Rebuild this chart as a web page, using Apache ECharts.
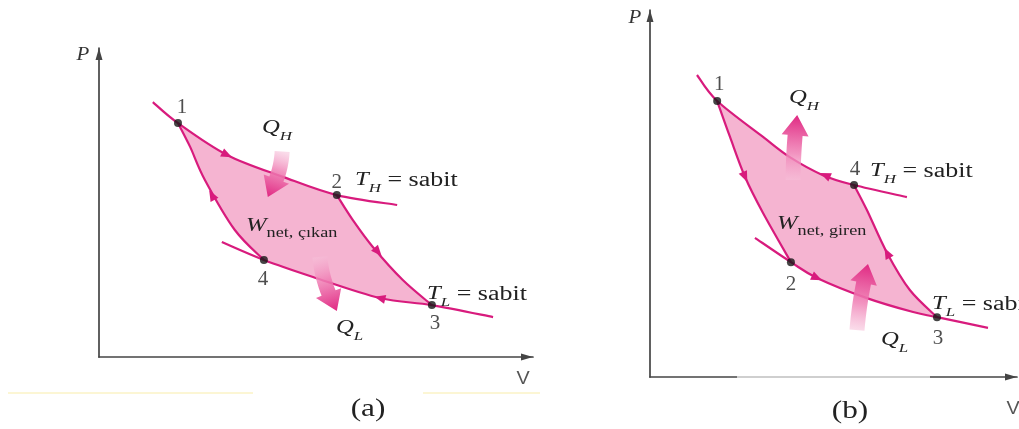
<!DOCTYPE html>
<html>
<head>
<meta charset="utf-8">
<script src="https://cdn.jsdelivr.net/npm/echarts@6/dist/echarts.min.js"></script>
<style>html,body{margin:0;padding:0;background:#fff}#c{width:1019px;height:429px}</style>
</head>
<body>
<div id="c"></div>
<script>
// ---------- Panel (a): heat engine cycle (V, P in relative units 0..100) ----------
const aIsoHot    = [[12.4,82.5],[18.2,75.7],[29.5,65.4],[42.4,58.3],[54.8,52.4],[68.7,49.2]];
const aIsoCold   = [[28.3,37.2],[38.0,31.4],[49.3,25.9],[64.7,19.1],[76.7,16.8],[90.8,12.9]];
const aAdiaLeft  = [[18.2,75.7],[21.0,68.0],[24.4,57.3],[31.3,41.1],[38.0,31.4]];   // 1 ... 4
const aAdiaRight = [[54.8,52.4],[58.5,44.3],[63.1,35.6],[70.0,24.9],[76.7,16.8]];   // 2 ... 3
const aStates    = [[18.2,75.7],[54.8,52.4],[76.7,16.8],[38.0,31.4]];
const aStateNames = ['1','2','3','4'];
const aFlowMarks = [[29.5,65.4],[64.3,34.0],[64.7,19.1],[26.0,52.4]];
const aHeatQH    = [[42.2,66.5],[41.9,58.9],[38.9,51.8]];   // tail, bend, tip
const aHeatQL    = [[50.9,32.4],[51.4,23.9],[54.8,14.9]];

// ---------- Panel (b): refrigerator cycle ----------
const bIsoHot    = [[12.8,82.3],[18.3,75.2],[30.8,65.4],[38.1,59.9],[47.1,55.0],[55.6,52.3],[70.0,49.0]];
const bIsoCold   = [[28.6,37.9],[38.4,31.3],[45.5,27.0],[59.1,21.5],[71.7,17.7],[78.2,16.3],[92.1,13.4]];
const bAdiaLeft  = [[18.3,75.2],[21.8,65.4],[25.9,54.5],[30.8,44.7],[38.4,31.3]];   // 1 ... 2
const bAdiaRight = [[55.6,52.3],[59.1,45.5],[64.6,33.8],[70.8,23.7],[78.2,16.3]];   // 4 ... 3
const bStates    = [[18.3,75.2],[38.4,31.3],[78.2,16.3],[55.6,52.3]];
const bStateNames = ['1','2','3','4'];
const bFlowMarks = [[25.9,54.5],[45.5,27.0],[64.6,33.8],[47.7,55.0]];
const bHeatQH    = [[39.0,53.7],[39.0,61.9],[40.1,71.4]];
const bHeatQL    = [[56.4,12.8],[57.2,22.3],[59.4,30.8]];

// ---------- styles ----------
const LINE = '#d81b7d', FILL = '#f5b4d1', DOT = '#161616', AXIS = '#454545';
const SERIF = '"Liberation Serif", "DejaVu Serif", serif';

function crSegs(px, i0, i1) {
  const segs = [], step = i1 >= i0 ? 1 : -1, n = px.length;
  const g = k => px[Math.max(0, Math.min(n - 1, k))];
  for (let i = i0; i !== i1; i += step) {
    const p0 = g(i - step), p1 = g(i), p2 = g(i + step), p3 = g(i + 2 * step);
    segs.push([p1,
      [p1[0] + (p2[0] - p0[0]) / 6, p1[1] + (p2[1] - p0[1]) / 6],
      [p2[0] - (p3[0] - p1[0]) / 6, p2[1] - (p3[1] - p1[1]) / 6],
      p2]);
  }
  return segs;
}
function segsPath(segs, close) {
  let d = 'M' + segs[0][0][0] + ',' + segs[0][0][1];
  segs.forEach(s => { d += 'C' + s[1][0] + ',' + s[1][1] + ' ' + s[2][0] + ',' + s[2][1] + ' ' + s[3][0] + ',' + s[3][1]; });
  return close ? d + 'Z' : d;
}
function bez(s, t) {
  const a = (1-t)*(1-t)*(1-t), b = 3*(1-t)*(1-t)*t, c = 3*(1-t)*t*t, e = t*t*t;
  return [a*s[0][0]+b*s[1][0]+c*s[2][0]+e*s[3][0], a*s[0][1]+b*s[1][1]+c*s[2][1]+e*s[3][1]];
}
function heatArrow(T, C, E, shaftW, headW, headL) {
  const N = 40, pts = [];
  for (let i = 0; i <= N; i++) {
    const t = i / N, a = (1-t)*(1-t), b = 2*(1-t)*t, c = t*t;
    pts.push([a*T[0]+b*C[0]+c*E[0], a*T[1]+b*C[1]+c*E[1]]);
  }
  const L = [0];
  for (let i = 1; i <= N; i++) L.push(L[i-1] + Math.hypot(pts[i][0]-pts[i-1][0], pts[i][1]-pts[i-1][1]));
  const total = L[N];
  let k = N; while (k > 0 && total - L[k] < headL) k--;
  const nrm = i => {
    const p = pts[Math.min(i+1, N)], q = pts[Math.max(i-1, 0)];
    const dx = p[0]-q[0], dy = p[1]-q[1], l = Math.hypot(dx, dy) || 1;
    return [-dy / l, dx / l];
  };
  const left = [], right = [];
  for (let i = 0; i <= k; i++) {
    const n = nrm(i);
    left.push([pts[i][0] + n[0]*shaftW/2, pts[i][1] + n[1]*shaftW/2]);
    right.push([pts[i][0] - n[0]*shaftW/2, pts[i][1] - n[1]*shaftW/2]);
  }
  const n = nrm(k), B = pts[k];
  return left.concat([[B[0]+n[0]*headW/2, B[1]+n[1]*headW/2], E, [B[0]-n[0]*headW/2, B[1]-n[1]*headW/2]], right.reverse());
}

function panelRenderer(cfg) {
  return function (params, api) {
    const toPx = arr => arr.map(p => api.coord(p));
    const curves = { hot: toPx(cfg.hot), cold: toPx(cfg.cold), adL: toPx(cfg.adL), adR: toPx(cfg.adR) };
    const children = [];
    // cycle area
    let cycleSegs = [];
    cfg.edges.forEach(e => { cycleSegs = cycleSegs.concat(crSegs(curves[e[0]], e[1], e[2])); });
    children.push({ type: 'path', shape: { pathData: segsPath(cycleSegs, true) },
      style: { fill: FILL, stroke: null } });
    // isotherms and adiabats
    ['hot', 'cold', 'adL', 'adR'].forEach(k => {
      const px = curves[k];
      children.push({ type: 'path', shape: { pathData: segsPath(crSegs(px, 0, px.length - 1), false) },
        style: { fill: null, stroke: LINE, lineWidth: 2.2, lineJoin: 'round' } });
    });
    // flow-direction triangles
    const samples = [];
    cycleSegs.forEach(s => { for (let i = 0; i < 12; i++) samples.push(bez(s, i / 12)); });
    samples.push(cycleSegs[cycleSegs.length - 1][3]);
    cfg.marks.forEach(m => {
      const p = api.coord(m);
      let best = 0, bd = Infinity;
      for (let i = 0; i < samples.length - 1; i++) {
        const d = Math.hypot(samples[i][0] - p[0], samples[i][1] - p[1]);
        if (d < bd) { bd = d; best = i; }
      }
      const a = samples[best], b = samples[best + 1];
      const dx = b[0] - a[0], dy = b[1] - a[1], l = Math.hypot(dx, dy) || 1;
      const ux = dx / l, uy = dy / l, nx = -uy, ny = ux, len = 11, w = 9;
      children.push({ type: 'polygon', shape: { points: [
        [p[0] + ux*len/2, p[1] + uy*len/2],
        [p[0] - ux*len/2 + nx*w/2, p[1] - uy*len/2 + ny*w/2],
        [p[0] - ux*len/2 - nx*w/2, p[1] - uy*len/2 - ny*w/2]] },
        style: { fill: LINE } });
    });
    // heat-transfer arrows
    cfg.heats.forEach(h => {
      const T = api.coord(h[0]), C = api.coord(h[1]), E = api.coord(h[2]);
      const grad = new echarts.graphic.LinearGradient(T[0], T[1], E[0], E[1], [
        { offset: 0, color: 'rgba(246,190,216,0.55)' },
        { offset: 0.4, color: 'rgba(240,130,182,0.85)' },
        { offset: 1, color: 'rgba(224,40,130,1)' }], true);
      children.push({ type: 'polygon', shape: { points: heatArrow(T, C, E, 15, 27, 19) },
        style: { fill: grad } });
    });
    return { type: 'group', children };
  };
}

const cfgA = { hot: aIsoHot, cold: aIsoCold, adL: aAdiaLeft, adR: aAdiaRight,
  edges: [['hot', 1, 4], ['adR', 0, 4], ['cold', 4, 1], ['adL', 4, 0]],
  marks: aFlowMarks, heats: [aHeatQH, aHeatQL] };
const cfgB = { hot: bIsoHot, cold: bIsoCold, adL: bAdiaLeft, adR: bAdiaRight,
  edges: [['adL', 0, 4], ['cold', 1, 5], ['adR', 4, 0], ['hot', 5, 1]],
  marks: bFlowMarks, heats: [bHeatQH, bHeatQL] };

const aLabelOffsets = [[4, -16], [0, -13], [3, 18], [-1, 20]];
const bLabelOffsets = [[2, -17], [0, 22], [1, 21], [1, -16]];
function dots(states, names, offs) {
  return states.map((s, i) => ({ value: s, name: names[i],
    label: { show: true, position: 'inside', offset: offs[i], formatter: names[i],
      fontFamily: 'Liberation Serif', fontSize: 21, color: '#222' } }));
}

function axis(gi, extra) {
  return Object.assign({ gridIndex: gi, type: 'value', min: 0, max: 100,
    axisLine: { show: true, onZero: false, symbol: ['none', 'triangle'], symbolSize: [7, 12], symbolOffset: [0, -6],
      lineStyle: { color: AXIS, width: 1.7 } },
    axisTick: { show: false }, axisLabel: { show: false }, splitLine: { show: false } }, extra || {});
}

function rt(x, y, parts, sx) {
  return { type: 'text', x: x, y: y, scaleX: sx || 1.3, silent: true, z: 100,
    style: { text: parts.map(p => '{' + p[0] + '|' + p[1] + '}').join(''),
      align: 'left', verticalAlign: 'middle',
      rich: {
        it: { font: 'italic 19px ' + SERIF, fill: '#222', verticalAlign: 'top' },
        sub: { font: 'italic 13px ' + SERIF, fill: '#222', verticalAlign: 'top', padding: [12, 0, 0, 0] },
        subr: { font: '14px ' + SERIF, fill: '#222', verticalAlign: 'top', padding: [10, 0, 0, 0] },
        rm: { font: '20px ' + SERIF, fill: '#222', verticalAlign: 'top' }
      } } };
}
function tx(x, y, text, font, sx, color) {
  return { type: 'text', x: x, y: y, scaleX: sx || 1, silent: true, z: 100,
    style: { text: text, font: font, fill: color || '#222', align: 'center', verticalAlign: 'middle' } };
}

const chart = echarts.init(document.getElementById('c'));
chart.setOption({
  animation: false,
  backgroundColor: '#ffffff',
  grid: [
    { left: 99, top: 48, width: 434, height: 309 },
    { left: 650, top: 10, width: 367, height: 367 }
  ],
  xAxis: [axis(0), axis(1)],
  yAxis: [axis(0), axis(1)],
  series: [
    { type: 'custom', xAxisIndex: 0, yAxisIndex: 0, data: [[50, 50]], renderItem: panelRenderer(cfgA), silent: true, clip: false, z: 2 },
    { type: 'scatter', xAxisIndex: 0, yAxisIndex: 0, data: dots(aStates, aStateNames, aLabelOffsets),
      symbolSize: 8, itemStyle: { color: DOT }, z: 5, silent: true },
    { type: 'custom', xAxisIndex: 1, yAxisIndex: 1, data: [[50, 50]], renderItem: panelRenderer(cfgB), silent: true, clip: false, z: 2 },
    { type: 'scatter', xAxisIndex: 1, yAxisIndex: 1, data: dots(bStates, bStateNames, bLabelOffsets),
      symbolSize: 8, itemStyle: { color: DOT }, z: 5, silent: true }
  ],
  graphic: [
    { type: 'line', shape: { x1: 8, y1: 393, x2: 253, y2: 393 }, style: { stroke: '#fbf3c6', lineWidth: 1.5 }, silent: true },
    { type: 'line', shape: { x1: 423, y1: 393, x2: 540, y2: 393 }, style: { stroke: '#fbf3c6', lineWidth: 1.5 }, silent: true },
    { type: 'line', shape: { x1: 737, y1: 377, x2: 930, y2: 377 }, style: { stroke: '#cfcfcf', lineWidth: 2 }, silent: true, z: 10 },
    tx(83, 55, 'P', 'italic 19px ' + SERIF, 1.1, '#333'),
    tx(523, 379, 'V', '18px "Liberation Sans", sans-serif', 1.1, '#555'),
    tx(635, 18, 'P', 'italic 19px ' + SERIF, 1.1, '#333'),
    tx(1013, 409, 'V', '18px "Liberation Sans", sans-serif', 1.1, '#555'),
    tx(368, 409, '(a)', '25px ' + SERIF, 1.25),
    tx(850, 411, '(b)', '25px ' + SERIF, 1.25),
    rt(262, 131, [['it', 'Q'], ['sub', 'H']]),
    rt(355, 183, [['it', 'T'], ['sub', 'H'], ['rm', ' = sabit']]),
    rt(246, 228, [['it', 'W'], ['subr', 'net, çıkan']]),
    rt(427, 297, [['it', 'T'], ['sub', 'L'], ['rm', ' = sabit']]),
    rt(336, 331, [['it', 'Q'], ['sub', 'L']]),
    rt(789, 101, [['it', 'Q'], ['sub', 'H']]),
    rt(870, 174, [['it', 'T'], ['sub', 'H'], ['rm', ' = sabit']]),
    rt(777, 226, [['it', 'W'], ['subr', 'net, giren']]),
    rt(932, 307, [['it', 'T'], ['sub', 'L'], ['rm', ' = sabit']]),
    rt(881, 343, [['it', 'Q'], ['sub', 'L']])
  ]
});
</script>
</body>
</html>
